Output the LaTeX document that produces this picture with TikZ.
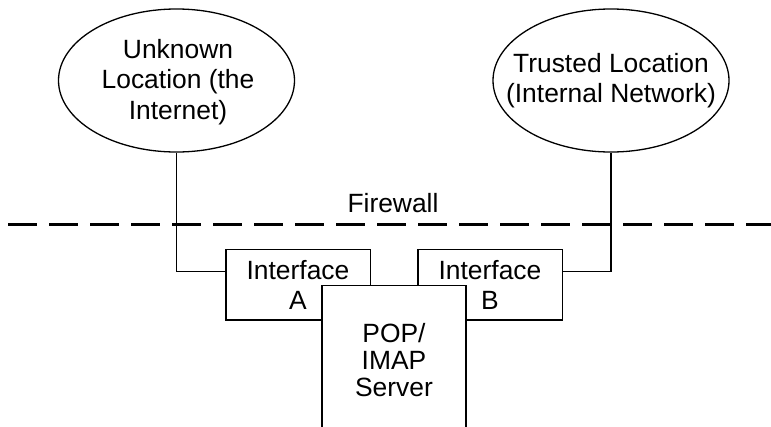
\documentclass[tikz,border=0pt]{standalone}
\usepackage{fontspec}
\setmainfont{Liberation Sans}
\usetikzlibrary{shapes.geometric,calc}
\begin{document}
\begin{tikzpicture}[x=1pt,y=-1pt,
  every node/.style={font=\fontsize{26.4}{30.5}\selectfont},
  location/.style={ellipse, draw, line width=1.3pt, minimum width=236pt,
    minimum height=143pt, inner sep=0pt},
  caption/.style={align=center, anchor=north, inner sep=0pt},
  box/.style={draw, line width=1.3pt, fill=white, inner sep=0pt, align=center},
  wire/.style={line width=1.3pt},
  fwline/.style={line width=3pt, dash pattern=on 28.4pt off 12.6pt}]
\useasboundingbox (0,0) rectangle (771,426);
\clip (0,0) rectangle (771,426);

% the two locations
\node[location] (inet) at (176.5,80.5) {};
\node[caption] (inettext) at (178,39) {Unknown\\Location (the\\Internet)};
\node[location] (lan) at (611,80.5) {};
\node[caption] (lantext) at (611,53) {Trusted Location\\(Internal Network)};

% firewall boundary
\node[anchor=base, inner sep=0pt] (fwlabel) at (393,212) {Firewall};
\coordinate (fwL) at (8.3,224);
\coordinate (fwR) at (780,224);
\draw[fwline] (fwL) -- (fwR);

% interfaces
\node[box, minimum width=144.3pt, minimum height=70.7pt] (ifA) at (298,284.7) {Interface\\A};
\node[box, minimum width=144.3pt, minimum height=70.7pt] (ifB) at (490,284.7) {Interface\\B};

% wiring from the locations to the interfaces
\draw[wire] (inet.south) |- ($(ifA.north west)!0.32!(ifA.south west)$);
\draw[wire] (lan.south) |- ($(ifB.north east)!0.32!(ifB.south east)$);

% server, running past the lower edge
\node[box, anchor=north, minimum width=144pt, minimum height=170pt] (srv) at (394,285) {};
\node[caption, font=\fontsize{26.4}{27}\selectfont] (srvtext) at (394,323) {POP/\\IMAP\\Server};
\end{tikzpicture}
\end{document}
